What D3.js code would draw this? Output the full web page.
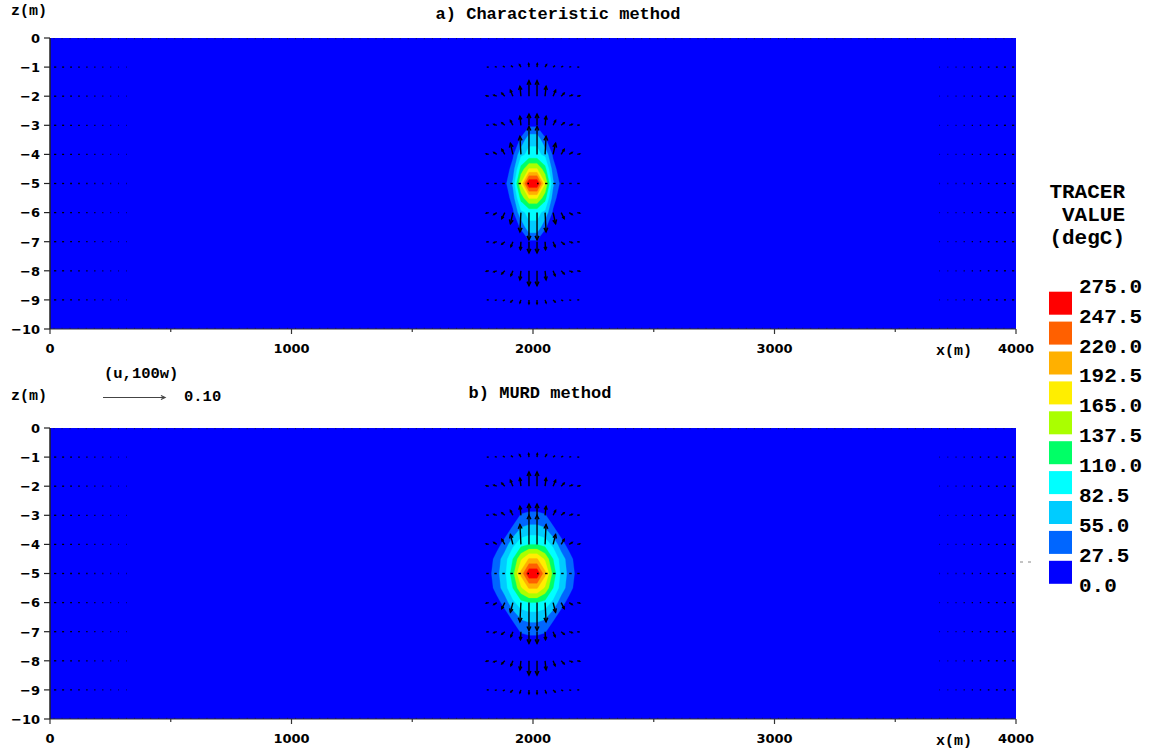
<!DOCTYPE html>
<html><head><meta charset="utf-8">
<script src="https://cdnjs.cloudflare.com/ajax/libs/d3/7.8.5/d3.min.js"></script>
<style>body{margin:0;background:#fff}svg{display:block}</style>
</head><body>
<svg id="c" width="1150" height="749"></svg>
<script>
// ---------------- data ----------------
const xTicks = [0, 1000, 2000, 3000, 4000];
const xMinorTicks = [500, 1500, 2500, 3500];
const zTicks = [0, -1, -2, -3, -4, -5, -6, -7, -8, -9, -10];
const legendLevels = [0, 27.5, 55, 82.5, 110, 137.5, 165, 192.5, 220, 247.5, 275];
const legendLabels = ["275.0","247.5","220.0","192.5","165.0","137.5","110.0","82.5","55.0","27.5","0.0"];
const legendColors = ["#0000ff","#0066ff","#00ccff","#00ffff","#00ff66","#aaff00","#ffee00","#ffb000","#ff6000","#ff0000"];
const panelTitles = ["a) Characteristic method", "b) MURD method"];

// tracer grid (x in m, z in m) around the plume; zero outside
const tracerX = [1783.3, 1816.7, 1850, 1883.3, 1916.7, 1950, 1983.3, 2016.7, 2050, 2083.3, 2116.7, 2150, 2183.3, 2216.7];
const tracerZ = [-2, -2.5, -3, -3.5, -4, -4.5, -5, -5.5, -6, -6.5, -7, -7.5, -8];
const tracerA = [
  [0,0,0,0,0,0,0,0,0,0,0,0,0,0],
  [0,0,0,0,0,1,4,4,1,0,0,0,0,0],
  [0,0,0,0,0,6,22,22,6,0,0,0,0,0],
  [0,0,0,0,5,32,76,76,32,5,0,0,0,0],
  [0,0,0,3,22,75,90,90,75,22,3,0,0,0],
  [0,0,1,8,40,120,167,167,120,40,8,1,0,0],
  [0,0,3,19,60,167,279,279,167,60,19,3,0,0],
  [0,0,1,8,40,120,167,167,120,40,8,1,0,0],
  [0,0,0,3,22,75,90,90,75,22,3,0,0,0],
  [0,0,0,0,5,32,76,76,32,5,0,0,0,0],
  [0,0,0,0,0,6,22,22,6,0,0,0,0,0],
  [0,0,0,0,0,1,4,4,1,0,0,0,0,0],
  [0,0,0,0,0,0,0,0,0,0,0,0,0,0]
];
const tracerB = [
  [0,0,0,0,0,0,0,0,0,0,0,0,0,0],
  [0,0,0,0,1,4,5,5,4,1,0,0,0,0],
  [0,0,0,1,8,30,35,35,30,8,1,0,0,0],
  [0,0,2,12,35,60,66,66,60,35,12,2,0,0],
  [0,3,15,40,75,100,110,110,100,75,40,15,3,0],
  [1,12,40,70,110,160,195,195,160,110,70,40,12,1],
  [3,18,46,75,127,200,272,272,200,127,75,46,18,3],
  [1,12,40,70,110,160,195,195,160,110,70,40,12,1],
  [0,3,15,40,75,100,110,110,100,75,40,15,3,0],
  [0,0,2,12,35,60,66,66,60,35,12,2,0,0],
  [0,0,0,1,8,30,35,35,30,8,1,0,0,0],
  [0,0,0,0,1,4,5,5,4,1,0,0,0,0],
  [0,0,0,0,0,0,0,0,0,0,0,0,0,0]
];

// velocity vectors (u, 100w) in m/s near the plume
const vecX = [1816.7, 1850, 1883.3, 1916.7, 1950, 1983.3, 2016.7, 2050, 2083.3, 2116.7, 2150, 2183.3];
const vecZ = [-1, -2, -3, -4, -5, -6, -7, -8, -9];
const uA = [
  [-0.0032,-0.0032,-0.0032,-0.0032,-0.0024,-0.0005, 0.0005,0.0024,0.0032,0.0032,0.0032,0.0032],
  [-0.0040,-0.0048,-0.0048,-0.0040,-0.0016,0, 0,0.0016,0.0040,0.0048,0.0048,0.0040],
  [-0.0040,-0.0048,-0.0048,-0.0040,-0.0016,0, 0,0.0016,0.0040,0.0048,0.0048,0.0040],
  [-0.0040,-0.0048,-0.0048,-0.0040,-0.0016,0, 0,0.0016,0.0040,0.0048,0.0048,0.0040],
  [-0.0040,-0.0040,-0.0040,-0.0040,-0.0040,-0.0024, 0.0024,0.0040,0.0040,0.0040,0.0040,0.0040],
  [-0.0040,-0.0048,-0.0048,-0.0040,-0.0016,0, 0,0.0016,0.0040,0.0048,0.0048,0.0040],
  [-0.0040,-0.0048,-0.0048,-0.0032,-0.0008,0, 0,0.0008,0.0032,0.0048,0.0048,0.0040],
  [-0.0040,-0.0048,-0.0048,-0.0032,-0.0016,0, 0,0.0016,0.0032,0.0048,0.0048,0.0040],
  [-0.0032,-0.0032,-0.0032,-0.0032,-0.0016,0, 0,0.0016,0.0032,0.0032,0.0032,0.0032]
];
const w100A = [
  [0, 0.0008, 0.0016, 0.0024, 0.0040, 0.0056, 0.0056, 0.0040, 0.0024, 0.0016, 0.0008, 0],
  [0.0008, 0.0016, 0.0048, 0.0097, 0.0160, 0.0250, 0.0250, 0.0160, 0.0097, 0.0048, 0.0016, 0.0008],
  [0.0005, 0.0016, 0.0040, 0.0080, 0.0145, 0.0180, 0.0180, 0.0145, 0.0080, 0.0040, 0.0016, 0.0005],
  [0.0008, 0.0032, 0.0080, 0.0180, 0.0290, 0.0450, 0.0450, 0.0290, 0.0180, 0.0080, 0.0032, 0.0008],
  [0,0,0,0,0,0,0,0,0,0,0,0],
  [-0.0008,-0.0032,-0.0097,-0.0180,-0.0310,-0.0440,-0.0440,-0.0310,-0.0180,-0.0097,-0.0032,-0.0008],
  [-0.0005,-0.0016,-0.0040,-0.0080,-0.0130,-0.0180,-0.0180,-0.0130,-0.0080,-0.0040,-0.0016,-0.0005],
  [-0.0008,-0.0016,-0.0048,-0.0080,-0.0145,-0.0240,-0.0240,-0.0145,-0.0080,-0.0048,-0.0016,-0.0008],
  [0,-0.0008,-0.0016,-0.0032,-0.0048,-0.0065,-0.0065,-0.0048,-0.0032,-0.0016,-0.0008,0]
];
const uB = uA;
const w100B = [
  [0, 0.0008, 0.0016, 0.0024, 0.0040, 0.0056, 0.0056, 0.0040, 0.0024, 0.0016, 0.0008, 0],
  [0.0008, 0.0016, 0.0048, 0.0097, 0.0130, 0.0230, 0.0230, 0.0130, 0.0097, 0.0048, 0.0016, 0.0008],
  [0.0005, 0.0016, 0.0040, 0.0080, 0.0145, 0.0180, 0.0180, 0.0145, 0.0080, 0.0040, 0.0016, 0.0005],
  [0.0008, 0.0032, 0.0080, 0.0160, 0.0320, 0.0470, 0.0470, 0.0320, 0.0160, 0.0080, 0.0032, 0.0008],
  [0,0,0,0,0,0,0,0,0,0,0,0],
  [-0.0008,-0.0032,-0.0097,-0.0155,-0.0310,-0.0450,-0.0450,-0.0310,-0.0155,-0.0097,-0.0032,-0.0008],
  [-0.0005,-0.0016,-0.0040,-0.0080,-0.0130,-0.0190,-0.0190,-0.0130,-0.0080,-0.0040,-0.0016,-0.0005],
  [-0.0008,-0.0016,-0.0048,-0.0080,-0.0145,-0.0230,-0.0230,-0.0145,-0.0080,-0.0048,-0.0016,-0.0008],
  [0,-0.0008,-0.0016,-0.0032,-0.0048,-0.0065,-0.0065,-0.0048,-0.0032,-0.0016,-0.0008,0]
];
// weak near-wall flow (u, m/s) in the columns next to each side wall
const edgeXLeft = [16.7, 50, 83.3, 116.7, 150, 183.3, 216.7, 250, 283.3, 316.7];
const edgeXRight = [3983.3, 3950, 3916.7, 3883.3, 3850, 3816.7, 3783.3, 3750, 3716.7, 3683.3];
const edgeU = [0.0036, 0.0033, 0.0030, 0.0026, 0.0022, 0.0019, 0.0016, 0.0013, 0.0010, 0.0008];
const vecRefValue = 0.10;

// ---------------- drawing ----------------
const svg = d3.select("#c");
const FONT_MONO = "'Liberation Mono','Courier New',monospace";
const FONT_SANS = "'DejaVu Sans',sans-serif";
const x = d3.scaleLinear().domain([0, 4000]).range([50, 1016]);
const vec = d3.scaleLinear().domain([0, vecRefValue]).range([0, 62]);
const color = d3.scaleThreshold().domain(legendLevels.slice(1, 10)).range(legendColors);
const panelTops = [38, 428];
const titleY = [19, 398];
const zLabelY = [15, 400];
const plotH = 291;
const defs = svg.append("defs");

function arrow(g, x0, y0, dxp, dyp, stroke, sw) {
  const L = Math.hypot(dxp, dyp);
  const x1 = x0 + dxp, y1 = y0 + dyp;
  g.append("line").attr("x1", x0).attr("y1", y0).attr("x2", x1).attr("y2", y1)
    .attr("stroke", stroke).attr("stroke-width", sw);
  if (L > 2.5) {
    const h = Math.min(4.5, 0.4 * L), a = Math.atan2(dyp, dxp), s = 0.45;
    const p = [[x1 - h * Math.cos(a - s), y1 - h * Math.sin(a - s)], [x1, y1], [x1 - h * Math.cos(a + s), y1 - h * Math.sin(a + s)]];
    g.append("path").attr("d", d3.line()(p)).attr("fill", "none").attr("stroke", stroke).attr("stroke-width", sw);
  }
}

panelTops.forEach((top, pi) => {
  const y = d3.scaleLinear().domain([0, -10]).range([top, top + plotH]);
  const tracer = pi === 0 ? tracerA : tracerB;
  const U = pi === 0 ? uA : uB;
  const W100 = pi === 0 ? w100A : w100B;
  const clipId = "clip" + pi;
  defs.append("clipPath").attr("id", clipId).append("rect")
    .attr("x", x(0)).attr("y", y(0)).attr("width", x(4000) - x(0)).attr("height", y(-10) - y(0));
  const pg = svg.append("g").attr("clip-path", `url(#${clipId})`);
  pg.append("rect").attr("x", x(0)).attr("y", y(0)).attr("width", x(4000) - x(0)).attr("height", y(-10) - y(0))
    .attr("fill", legendColors[0]);

  const n = tracerX.length, m = tracerZ.length;
  const ix = d3.scaleLinear().domain([0, n - 1]).range([tracerX[0], tracerX[n - 1]]);
  const iz = d3.scaleLinear().domain([0, m - 1]).range([tracerZ[0], tracerZ[m - 1]]);
  const proj = d3.geoTransform({ point(px, py) { this.stream.point(x(ix(px - 0.5)), y(iz(py - 0.5))); } });
  const path = d3.geoPath(proj);
  const cs = d3.contours().size([n, m]).thresholds(legendLevels.slice(1, 10))(tracer.flat());
  pg.selectAll("path.band").data(cs).join("path").attr("class", "band")
    .attr("d", path).attr("fill", d => color(d.value)).attr("stroke", d => color(d.value)).attr("stroke-width", 0.3);

  // vectors
  const vg = pg.append("g");
  vecZ.forEach((zz, r) => vecX.forEach((xx, c) => {
    arrow(vg, x(xx), y(zz), vec(U[r][c]), -vec(W100[r][c]), "#000", 1.4);
  }));
  vecZ.forEach(zz => {
    edgeXLeft.forEach((xx, k) => arrow(vg, x(xx), y(zz), vec(edgeU[k]), 0, "#000", 1.3));
    edgeXRight.forEach((xx, k) => arrow(vg, x(xx), y(zz), vec(edgeU[k]), 0, "#000", 1.3));
  });
  // tiny zero-length vector marks along top and bottom boundaries
  d3.range(120).forEach(k => {
    const xx = x(16.67 + 33.333 * k);
    vg.append("rect").attr("x", xx - 0.5).attr("y", y(0)).attr("width", 1).attr("height", 1.2).attr("fill", "#112").attr("opacity", 0.6);
    vg.append("rect").attr("x", xx - 0.5).attr("y", y(-10) - 1.2).attr("width", 1).attr("height", 1.2).attr("fill", "#112").attr("opacity", 0.6);
  });

  // axes
  const ag = svg.append("g");
  ag.append("line").attr("x1", x(0)).attr("x2", x(4000)).attr("y1", y(-10)).attr("y2", y(-10)).attr("stroke", "#333").attr("stroke-width", 1.2);
  ag.append("line").attr("x1", x(0)).attr("x2", x(0)).attr("y1", y(0)).attr("y2", y(-10)).attr("stroke", "#222").attr("stroke-width", 1.5);
  xTicks.forEach(t => ag.append("line").attr("x1", x(t)).attr("x2", x(t)).attr("y1", y(-10)).attr("y2", y(-10) + 5).attr("stroke", "#333").attr("stroke-width", 1.2));
  xMinorTicks.forEach(t => ag.append("line").attr("x1", x(t)).attr("x2", x(t)).attr("y1", y(-10)).attr("y2", y(-10) + 3).attr("stroke", "#333").attr("stroke-width", 1.2));
  zTicks.forEach(t => ag.append("line").attr("x1", x(0) - 6).attr("x2", x(0)).attr("y1", y(t)).attr("y2", y(t)).attr("stroke", "#222").attr("stroke-width", 1.2));
  ag.selectAll("text.xl").data(xTicks).join("text").attr("class", "xl")
    .attr("x", d => x(d)).attr("y", y(-10) + 24).attr("text-anchor", "middle")
    .attr("font-family", FONT_SANS).attr("font-weight", "bold").attr("font-size", 13).text(d => String(d));
  ag.selectAll("text.zl").data(zTicks).join("text").attr("class", "zl")
    .attr("x", 40).attr("y", d => y(d) + 4.8).attr("text-anchor", "end")
    .attr("font-family", FONT_SANS).attr("font-weight", "bold").attr("font-size", 13)
    .text(d => d < 0 ? "\u2212" + Math.abs(d) : String(d));
  ag.append("text").attr("x", 936).attr("y", y(-10) + 26).attr("font-family", FONT_MONO).attr("font-weight", "bold").attr("font-size", 15).text("x(m)");
  ag.append("text").attr("x", 11).attr("y", zLabelY[pi]).attr("font-family", FONT_MONO).attr("font-weight", "bold").attr("font-size", 15).text("z(m)");
  ag.append("text").attr("x", pi === 0 ? 558 : 540).attr("y", titleY[pi]).attr("text-anchor", "middle")
    .attr("font-family", FONT_MONO).attr("font-weight", "bold").attr("font-size", 17).text(panelTitles[pi]);
});

// reference vector
const rg = svg.append("g");
rg.append("text").attr("x", 104).attr("y", 378).attr("font-family", FONT_MONO).attr("font-weight", "bold").attr("font-size", 15.5).text("(u,100w)");
arrow(rg, 103, 397.5, vec(vecRefValue), 0, "#444", 1.2);
rg.append("text").attr("x", 184).attr("y", 401).attr("font-family", FONT_MONO).attr("font-weight", "bold").attr("font-size", 15.5).text("0.10");

// legend
const lg = svg.append("g");
["TRACER", "VALUE", "(degC)"].forEach((t, i) => lg.append("text").attr("x", 1125).attr("y", 198 + 23 * i)
  .attr("text-anchor", "end").attr("font-family", FONT_MONO).attr("font-weight", "bold").attr("font-size", 21).text(t));
const legendSwatchColors = legendColors.slice().reverse();
lg.selectAll("rect.sw").data(legendSwatchColors).join("rect").attr("class", "sw")
  .attr("x", 1049).attr("y", (d, i) => 291.7 + 29.9 * i).attr("width", 23).attr("height", 23).attr("fill", d => d);
lg.selectAll("text.ll").data(legendLabels).join("text").attr("class", "ll")
  .attr("x", 1079).attr("y", (d, i) => 292.7 + 29.9 * i).attr("font-family", FONT_MONO).attr("font-weight", "bold").attr("font-size", 21).text(d => d);
// stray marks right of lower panel
lg.append("line").attr("x1", 1020).attr("x2", 1023).attr("y1", 562).attr("y2", 562).attr("stroke", "#888");
lg.append("line").attr("x1", 1028).attr("x2", 1031).attr("y1", 562).attr("y2", 562).attr("stroke", "#888");
</script>
</body></html>
